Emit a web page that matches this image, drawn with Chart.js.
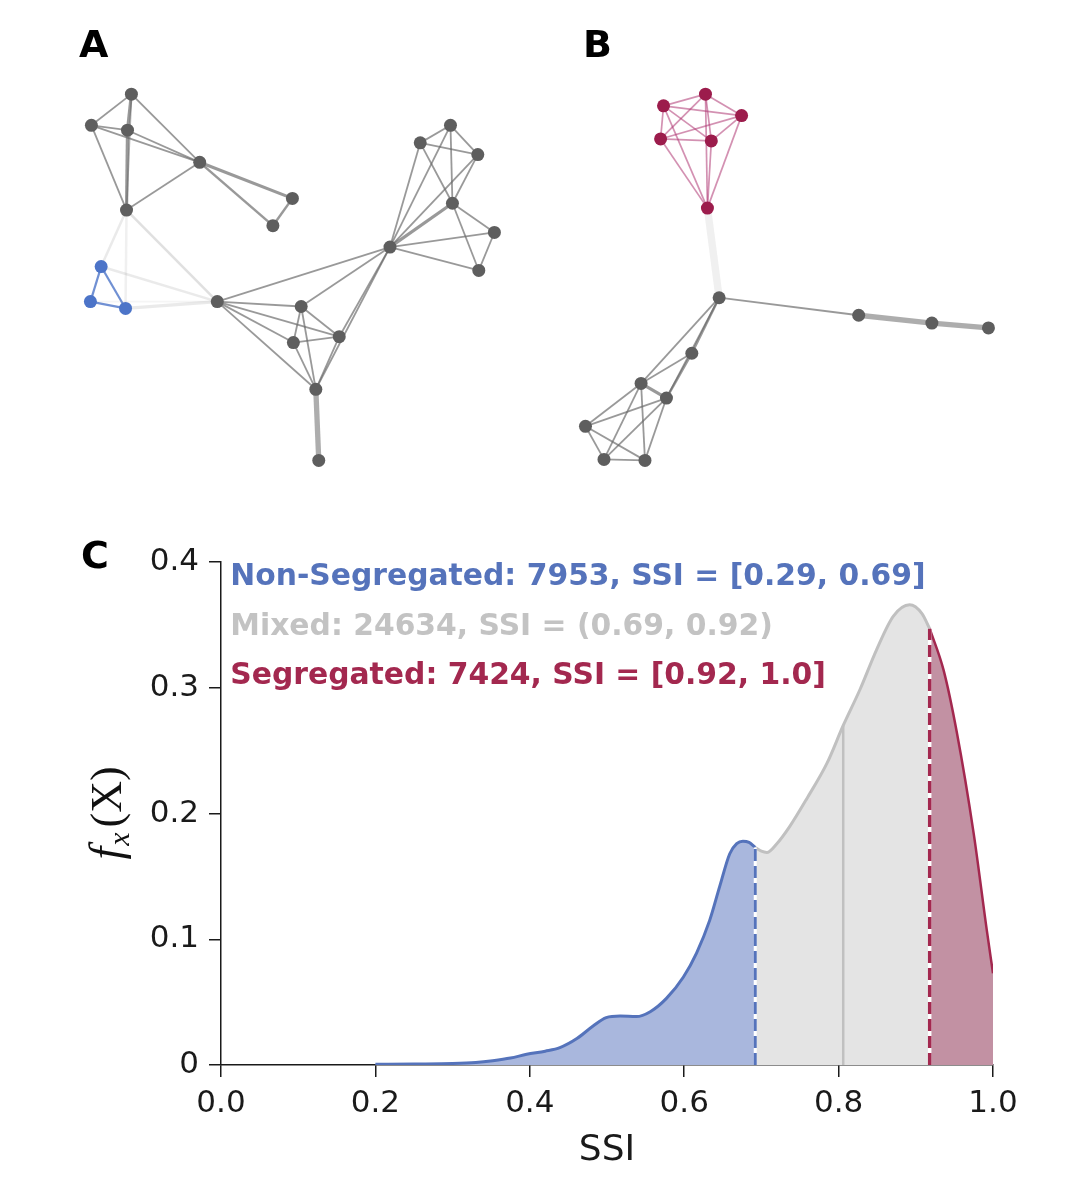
<!DOCTYPE html>
<html>
<head>
<meta charset="utf-8">
<script src="https://cdn.jsdelivr.net/npm/chart.js@4.4.1/dist/chart.umd.min.js"></script>
<style>
  body { margin: 0; background: #fff; }
  #wrap { position: relative; width: 1074px; height: 1198px; }
  canvas { position: absolute; }
</style>
</head>
<body>
<div id="wrap">
  <canvas id="netA" style="left:0;top:0"></canvas>
  <canvas id="netB" style="left:537px;top:0"></canvas>
  <canvas id="kde" style="left:0;top:500px"></canvas>
</div>
<script>
// ---- panel A: network layout (node positions) ----
const nodesA = [[128,90],[87,122],[124,127],[198,160],[293,197],[273,225],[123,209],
  [97,267],[86,303],[122,310],[216,303],[455,122],[424,140],[483,152],[457,202],
  [500,232],[393,247],[484,271],[302,308],[341,339],[294,345],[317,393],[320,466]];
// 0 = other, 1 = non-segregated community
const groupsA = [0,0,0,0,0,0,0,1,1,1,0,0,0,0,0,0,0,0,0,0,0,0,0];
// [from, to, weight, strength]
const edgesA = [
  [0,1,1,1],[0,2,2,1],[2,6,2,1],[0,6,1,0.8],[0,3,1,1],[1,2,1,1],[1,3,1,1],[2,3,1,1],
  [1,6,1,1],[3,6,1,1],[3,4,2,1],[3,5,1.5,1],[4,5,1.5,1],
  [6,7,1.5,0.2],[6,9,1.5,0.15],[6,10,1.5,0.3],[7,10,1.5,0.2],[9,10,2,0.2],[8,10,1,0.1],
  [7,8,1,1],[7,9,1,1],[8,9,1,1],
  [10,16,1,1],[10,18,1,1],[10,19,1,1],[10,20,1,1],[10,21,1,1],
  [16,11,1,1],[16,12,1,1],[16,13,1,1],[16,14,2,1],[16,15,1,1],[16,17,1,1],
  [16,18,1,1],[16,19,1,1],[16,21,1,1],
  [11,12,1,1],[11,13,1,1],[11,14,1,1],[12,13,1,1],[12,14,1,1],[13,14,1,1],
  [14,15,1,1],[14,17,1,1],[15,17,1,1],
  [18,19,1,1],[18,20,1,1],[19,20,1,1],[18,21,1,1],[19,21,1,1],[20,21,1,1],
  [21,22,3.5,0.8]
];

// ---- panel B ----
const nodesB = [[660,102],[703,90],[740,112],[657,136],[709,138],[705,207],[717,299],
  [860,317],[935,325],[993,330],[689,356],[637,387],[663,402],[580,431],[599,465],[641,466]];
// 0 = other, 2 = segregated community
const groupsB = [2,2,2,2,2,2,0,0,0,0,0,0,0,0,0,0];
const edgesB = [
  [0,1,1,1],[0,2,1,1],[0,3,1,1],[0,4,1,1],[1,2,1,1],[1,3,1,1],[1,4,1,1],
  [2,3,1,1],[2,4,1,1],[3,4,1,1],[5,0,1,1],[5,1,1,1],[5,2,1,1],[5,3,1,1],[5,4,1,1],
  [5,6,5,0.15],
  [6,7,1,1],[7,8,3.5,0.8],[8,9,3.5,0.8],
  [6,10,1.5,1],[6,11,1,1],[6,12,1,1],[10,11,1,1],[10,12,1.5,1],[11,12,2,1],
  [11,13,1,1],[11,14,1,1],[11,15,1,1],[12,13,1,1],[12,14,1,1],[12,15,1,1],
  [13,14,1,1],[13,15,1,1],[14,15,1,1]
];

// ---- panel C: density of SSI ----
const ssi = [0.20,0.25,0.30,0.33,0.352,0.375,0.396,0.42,0.439,0.461,0.482,0.499,0.517,
  0.538,0.556,0.577,0.599,0.616,0.633,0.646,0.659,0.668,0.676,0.684,0.692,0.70,0.707,
  0.72,0.737,0.759,0.785,0.806,0.828,0.849,0.871,0.892,0.908,0.918,0.936,0.953,0.975,0.992,1.0];
const density = [0.0005,0.0008,0.0012,0.002,0.0034,0.0055,0.0085,0.011,0.0138,0.021,0.031,
  0.0377,0.039,0.0385,0.0424,0.053,0.070,0.089,0.115,0.142,0.168,0.176,0.178,0.177,0.173,
  0.170,0.169,0.176,0.190,0.212,0.240,0.270,0.299,0.330,0.357,0.366,0.359,0.347,0.314,
  0.265,0.184,0.107,0.073];
const lowCut = 0.692;
const highCut = 0.918;
const meanSsi = 0.806;
const groupNames = ["Non-Segregated", "Mixed", "Segregated"];
const groupCounts = [7953, 24634, 7424];
const groupRanges = ["[0.29, 0.69]", "(0.69, 0.92)", "[0.92, 1.0]"];
const xTicks = [0, 0.2, 0.4, 0.6, 0.8, 1.0];
const xTickLabels = ["0.0", "0.2", "0.4", "0.6", "0.8", "1.0"];
const yTicks = [0, 0.1, 0.2, 0.3, 0.4];
const yTickLabels = ["0", "0.1", "0.2", "0.3", "0.4"];

const nodeColors = ["#5e5e5e", "#4c74c8", "#9c1c4c"];
const edgeColors = ["105,105,105", "76,116,200", "175,55,115"];

function panelLabel(text, x, y) {
  return {
    id: "panel" + text,
    afterDraw(chart) {
      const ctx = chart.ctx;
      ctx.save();
      ctx.font = 'bold 38px "DejaVu Sans"';
      ctx.fillStyle = "#000";
      ctx.textBaseline = "alphabetic";
      ctx.fillText(text, x, y);
      ctx.restore();
    }
  };
}

function networkChart(id, nodes, groups, edges, xMin, label) {
  const cv = document.getElementById(id);
  cv.width = 537; cv.height = 500;
  const datasets = [];
  // nodes first so they sit on top
  [0, 1, 2].forEach(g => {
    const pts = nodes.filter((n, i) => groups[i] === g).map(n => ({ x: n[0], y: n[1] }));
    if (!pts.length) return;
    datasets.push({ data: pts, pointRadius: 6.5, pointBackgroundColor: nodeColors[g],
      pointBorderWidth: 0, showLine: false });
  });
  edges.forEach(e => {
    const a = nodes[e[0]], b = nodes[e[1]];
    const g = groups[e[0]] === groups[e[1]] ? groups[e[0]] : 0;
    let w = 1.8 + 1.4 * (e[2] - 1);
    let alpha = 0.68 * e[3];
    if (g === 2) { w = 1.7; alpha = 0.55; }
    if (g === 1) { w = 2.2; alpha = 0.8; }
    datasets.push({
      data: [{ x: a[0], y: a[1] }, { x: b[0], y: b[1] }],
      showLine: true, pointRadius: 0, borderWidth: w,
      borderColor: "rgba(" + edgeColors[g] + "," + alpha + ")"
    });
  });
  return new Chart(cv, {
    type: "scatter",
    data: { datasets },
    options: {
      responsive: false, animation: false,
      layout: { padding: 0 },
      plugins: { legend: { display: false }, tooltip: { enabled: false } },
      scales: {
        x: { type: "linear", min: xMin, max: xMin + 537, display: false },
        y: { type: "linear", min: 0, max: 500, reverse: true, display: false }
      }
    },
    plugins: [label]
  });
}

networkChart("netA", nodesA, groupsA, edgesA, 0, panelLabel("A", 79, 57));
networkChart("netB", nodesB, groupsB, edgesB, 537, panelLabel("B", 46, 57));

// ---- density chart ----
function segment(lo, hi) {
  const out = [];
  ssi.forEach((v, i) => { if (v >= lo && v <= hi) out.push({ x: v, y: density[i] }); });
  return out;
}
function densityAt(v) {
  for (let i = 1; i < ssi.length; i++) {
    if (ssi[i] >= v) {
      const t = (v - ssi[i - 1]) / (ssi[i] - ssi[i - 1]);
      return density[i - 1] + t * (density[i] - density[i - 1]);
    }
  }
  return density[density.length - 1];
}
function vline(v, color, width, dash) {
  return { data: [{ x: v, y: 0 }, { x: v, y: densityAt(v) }], showLine: true,
    pointRadius: 0, borderColor: color, borderWidth: width, borderDash: dash || [], order: 0 };
}

const yTitle = {
  id: "yTitle",
  afterDraw(chart) {
    const ctx = chart.ctx;
    ctx.save();
    ctx.translate(121, 313);
    ctx.rotate(-Math.PI / 2);
    ctx.fillStyle = "#111";
    ctx.textBaseline = "alphabetic";
    const big = '44px "Liberation Serif"';
    const itBig = 'italic 46px "Liberation Serif"';
    const itSmall = 'italic 30px "Liberation Serif"';
    ctx.font = itBig; const wf = ctx.measureText("f").width;
    ctx.font = itSmall; const wx = ctx.measureText("x").width;
    ctx.font = big; const wX = ctx.measureText("(X)").width;
    let x = -(wf + wx + wX + 6) / 2;
    ctx.font = itBig; ctx.fillText("f", x, 0); x += wf + 1;
    ctx.font = itSmall; ctx.fillText("x", x, 8); x += wx + 5;
    ctx.font = big; ctx.fillText("(X)", x, 0);
    ctx.restore();
  }
};

const groupText = {
  id: "groupText",
  afterDatasetsDraw(chart) {
    const { ctx, scales: { x, y } } = chart;
    const colors = ["#5573bb", "#c3c3c3", "#a3284f"];
    const levels = [0.388, 0.348, 0.309];
    ctx.save();
    ctx.font = 'bold 29.8px "DejaVu Sans"';
    ctx.textBaseline = "middle";
    groupNames.forEach((name, i) => {
      ctx.fillStyle = colors[i];
      ctx.fillText(name + ": " + groupCounts[i] + ", SSI = " + groupRanges[i],
        x.getPixelForValue(0.012), y.getPixelForValue(levels[i]));
    });
    ctx.restore();
  }
};

const kdeCanvas = document.getElementById("kde");
kdeCanvas.width = 1074; kdeCanvas.height = 698;
const axisColor = "#1a1a1a";
new Chart(kdeCanvas, {
  type: "scatter",
  data: {
    datasets: [
      vline(lowCut, "#5573bb", 3, [12, 5]),
      vline(highCut, "#a3284f", 3.5, [12, 5]),
      vline(lowCut, "#ffffff", 3),
      vline(highCut, "#ffffff", 3.5),
      vline(meanSsi, "#c0c0c0", 2.5),
      { data: segment(0, lowCut), showLine: true, pointRadius: 0, borderColor: "#5573bb",
        borderWidth: 3, backgroundColor: "#a9b7dd", fill: "origin",
        cubicInterpolationMode: "monotone", order: 1 },
      { data: segment(lowCut, highCut), showLine: true, pointRadius: 0, borderColor: "#c0c0c0",
        borderWidth: 3, backgroundColor: "#e4e4e4", fill: "origin",
        cubicInterpolationMode: "monotone", order: 1 },
      { data: segment(highCut, 1), showLine: true, pointRadius: 0, borderColor: "#a3284f",
        borderWidth: 2.5, backgroundColor: "#c291a3", fill: "origin",
        cubicInterpolationMode: "monotone", order: 1 }
    ]
  },
  options: {
    responsive: false, animation: false,
    layout: { padding: { top: 62, right: 81, left: 0, bottom: 0 } },
    plugins: { legend: { display: false }, tooltip: { enabled: false } },
    scales: {
      x: {
        type: "linear", min: 0, max: 1,
        afterFit: s => { s.height = 133; },
        afterBuildTicks: s => { s.ticks = xTicks.map(v => ({ value: v })); },
        ticks: { callback: (v, i) => xTickLabels[i], autoSkip: false, maxRotation: 0,
          color: axisColor, padding: 8, font: { family: "DejaVu Sans", size: 31 } },
        grid: { drawOnChartArea: false, drawTicks: true, tickLength: 12, color: axisColor, lineWidth: 1.5 },
        border: { display: true, color: axisColor, width: 1.5 },
        title: { display: true, text: "SSI", color: axisColor, padding: { top: 0, bottom: 26 },
          font: { family: "DejaVu Sans", size: 36 } }
      },
      y: {
        type: "linear", min: 0, max: 0.4,
        afterFit: s => { s.width = 221; },
        afterBuildTicks: s => { s.ticks = yTicks.map(v => ({ value: v })); },
        ticks: { callback: (v, i) => yTickLabels[i], autoSkip: false,
          color: axisColor, padding: 10, font: { family: "DejaVu Sans", size: 31 } },
        grid: { drawOnChartArea: false, drawTicks: true, tickLength: 12, color: axisColor, lineWidth: 1.5 },
        border: { display: true, color: axisColor, width: 1.5 }
      }
    }
  },
  plugins: [groupText, yTitle, panelLabel("C", 81, 68)]
});
</script>
</body>
</html>
